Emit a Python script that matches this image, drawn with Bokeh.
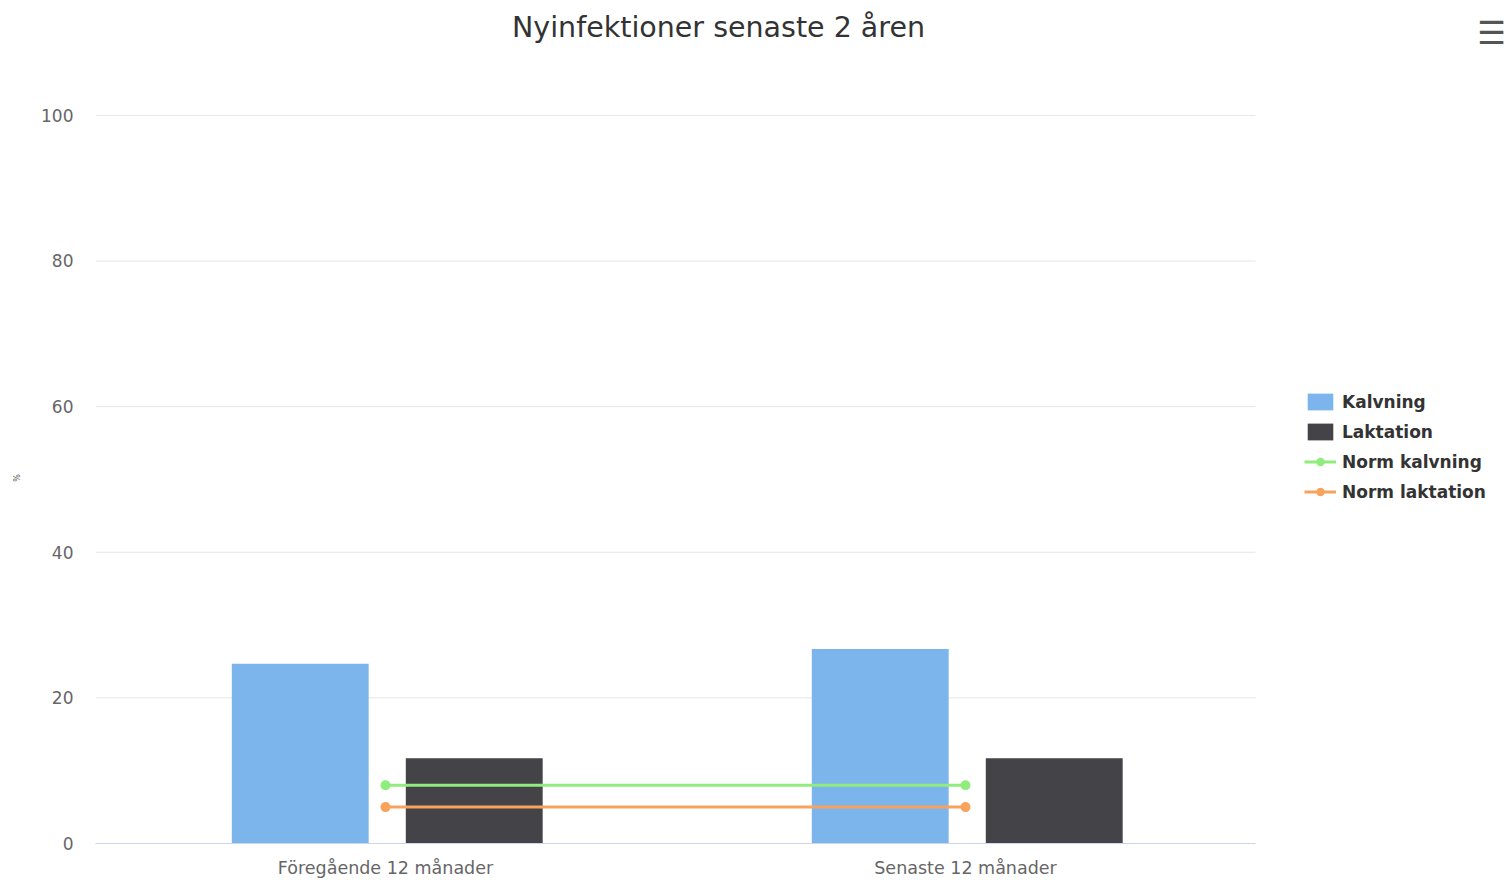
from bokeh.plotting import figure
from bokeh.models import (Range1d, ColumnDataSource, Legend, LegendItem,
                          Label, FixedTicker)
from bokeh.transform import dodge
from bokeh.embed import file_html
from bokeh.resources import INLINE

categories = ["Föregående 12 månader", "Senaste 12 månader"]
kalvning = [24.7, 26.7]
laktation = [11.7, 11.7]
norm_kalvning = [8, 8]
norm_laktation = [5, 5]
y_ticks = [0, 20, 40, 60, 80, 100]
title_text = "Nyinfektioner senaste 2 åren"
y_title = "%"
series_names = ["Kalvning", "Laktation", "Norm kalvning", "Norm laktation"]
colors = ["#7cb5ec", "#434348", "#90ed7d", "#f7a35c"]

FONT = "DejaVu Sans"

# category slot positions on a numeric axis (slot i is centred at i + 0.5)
x_pos = [i + 0.5 for i in range(len(categories))]
n_cat = len(categories)

src = ColumnDataSource(dict(x=x_pos, kalvning=kalvning, laktation=laktation,
                            nk=norm_kalvning, nl=norm_laktation))
grid_src = ColumnDataSource(dict(y=y_ticks, x0=[0] * len(y_ticks), x1=[n_cat] * len(y_ticks)))

W, H = 1512, 880
LEFT, BOTTOM = 95, 36
# x: one category slot is 580px wide; y: 7.29px per unit
x_end = (W - LEFT) / 580.0
y_end = (H - BOTTOM) / 7.29

p = figure(width=W, height=H,
           x_range=Range1d(0, x_end), y_range=Range1d(0, y_end),
           output_backend="svg", toolbar_location=None,
           min_border_left=LEFT, min_border_right=0, min_border_top=0, min_border_bottom=BOTTOM)
p.outline_line_color = None
p.background_fill_color = "white"
p.border_fill_color = "white"
p.xgrid.visible = False
p.ygrid.visible = False

# grid lines limited to the plot area of the categories
p.segment(x0='x0', x1='x1', y0='y', y1='y', source=grid_src, line_color="#e6e6e6", line_width=1)

r_k = p.vbar(x=dodge('x', -0.147), top='kalvning', width=0.236, source=src,
             fill_color=colors[0], line_color=None)
r_l = p.vbar(x=dodge('x', 0.153), top='laktation', width=0.236, source=src,
             fill_color=colors[1], line_color=None)
r_nk_line = p.line(x='x', y='nk', source=src, line_color=colors[2], line_width=3)
r_nk_pt = p.scatter(x='x', y='nk', source=src, size=10, fill_color=colors[2], line_color=None)
r_nl_line = p.line(x='x', y='nl', source=src, line_color=colors[3], line_width=3)
r_nl_pt = p.scatter(x='x', y='nl', source=src, size=10, fill_color=colors[3], line_color=None)

# y axis
p.yaxis.ticker = FixedTicker(ticks=y_ticks)
p.yaxis.bounds = (0, 100)
p.yaxis.axis_line_color = None
p.yaxis.major_tick_out = 0
p.yaxis.major_tick_in = 0
p.yaxis.minor_tick_out = 0
p.yaxis.minor_tick_in = 0
p.yaxis.major_label_standoff = 22
p.yaxis.major_label_text_font_size = "17px"
p.yaxis.major_label_text_color = "#666666"
p.yaxis.major_label_text_font = FONT
# the axis title sits at the middle of the 0-100 span; padding keeps it there
p.yaxis.axis_label = y_title + "\u00a0" * 44
p.yaxis.axis_label_text_font_size = "8px"
p.yaxis.axis_label_text_font_style = "normal"
p.yaxis.axis_label_text_color = "#555555"
p.yaxis.axis_label_text_font = FONT
p.yaxis.axis_label_standoff = 16

# x axis (categories)
p.xaxis.ticker = FixedTicker(ticks=x_pos)
p.xaxis.major_label_overrides = {xp: c for xp, c in zip(x_pos, categories)}
p.xaxis.bounds = (0, n_cat)
p.xaxis.axis_line_color = "#ccd6eb"
p.xaxis.axis_line_width = 1
p.xaxis.major_tick_out = 0
p.xaxis.major_tick_in = 0
p.xaxis.minor_tick_out = 0
p.xaxis.minor_tick_in = 0
p.xaxis.major_label_standoff = 14
p.xaxis.major_label_text_font_size = "17.5px"
p.xaxis.major_label_text_color = "#666666"
p.xaxis.major_label_text_font = FONT

# legend
items = [
    LegendItem(label=series_names[0], renderers=[r_k]),
    LegendItem(label=series_names[1], renderers=[r_l]),
    LegendItem(label=series_names[2], renderers=[r_nk_line, r_nk_pt]),
    LegendItem(label=series_names[3], renderers=[r_nl_line, r_nl_pt]),
]
legend = Legend(items=items, location=(1209, 341), orientation="vertical",
                padding=0, margin=0, border_line_color=None, background_fill_alpha=0,
                label_text_font=FONT, label_text_font_style="bold", label_text_font_size="17px",
                label_text_color="#333333", glyph_width=32, glyph_height=21,
                label_standoff=6, spacing=9, label_height=21)
p.add_layout(legend)

# title
p.add_layout(Label(x=(718 - LEFT) / 580.0, y=(H - BOTTOM - 27) / 7.29, text=title_text,
                   text_align="center", text_baseline="middle",
                   text_font=FONT, text_font_size="28.5px", text_color="#333333"))
# menu icon
p.add_layout(Label(x=(1491 - LEFT) / 580.0, y=(H - BOTTOM - 33) / 7.29, text="☰",
                   text_align="center", text_baseline="middle",
                   text_font=FONT, text_font_style="bold", text_font_size="32px",
                   text_color="#555555"))

open("out.html", "w").write(file_html(p, INLINE))
